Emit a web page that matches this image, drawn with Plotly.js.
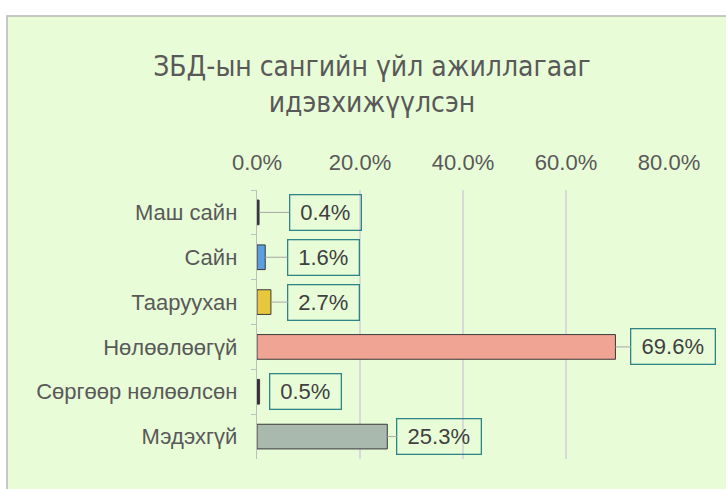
<!DOCTYPE html>
<html><head><meta charset="utf-8">
<script src="https://cdn.plot.ly/plotly-3.0.1.min.js"></script>
<style>html,body{margin:0;padding:0;background:#fff;}#chart{width:726px;height:489px;}</style>
</head><body><div id="chart"></div>
<script>
const categories = ["Маш сайн", "Сайн", "Тааруухан", "Нөлөөлөөгүй", "Сөргөөр нөлөөлсөн", "Мэдэхгүй"];
const shares = [0.004, 0.016, 0.027, 0.696, 0.005, 0.253];
const valueLabels = ["0.4%", "1.6%", "2.7%", "69.6%", "0.5%", "25.3%"];
const tickValues = [0, 0.2, 0.4, 0.6, 0.8];
const tickLabels = ["0.0%", "20.0%", "40.0%", "60.0%", "80.0%"];

const barColors = ["#2f3a34", "#5b9fdc", "#e6c83e", "#f0a493", "#2f2f2f", "#a9b9ad"];
const labelOffsets = [66, 58, 53, 58, 46, 52];
const showLeader = [true, true, true, true, false, true];

const W = 726, H = 489;
const L = 257, R = 57, T = 190, B = 30;
const pw = W - L - R, ph = H - T - B;
const px = v => (v - L) / pw;
const py = v => (H - B - v) / ph;

const trace = {
  type: "bar", orientation: "h",
  y: categories, x: shares,
  width: 0.55,
  marker: {color: barColors, line: {color: "#3a3a3a", width: 1}},
  hoverinfo: "skip"
};

const annotations = categories.map((c, i) => ({
  x: shares[i], y: c, xref: "x", yref: "y",
  text: valueLabels[i],
  showarrow: true, arrowhead: 0, arrowwidth: 1,
  arrowcolor: showLeader[i] ? "#a6a6a6" : "rgba(0,0,0,0)",
  ax: labelOffsets[i], ay: 0,
  font: {family: "Liberation Sans, Arial, sans-serif", size: 22, color: "#404040"},
  bordercolor: "#2f8585", borderwidth: 1.3, borderpad: 3,
  bgcolor: "rgba(0,0,0,0)",
  width: valueLabels[i].length > 4 ? 77 : 64, height: 28
}));

const layout = {
  width: W, height: H,
  margin: {l: L, r: R, t: T, b: B, pad: 0},
  paper_bgcolor: "#ffffff",
  plot_bgcolor: "rgba(0,0,0,0)",
  showlegend: false,
  title: {
    text: "ЗБД-ын сангийн үйл ажиллагааг<br>идэвхижүүлсэн",
    x: 372 / W, xref: "container", xanchor: "center",
    y: 1 - 76 / H, yref: "container", yanchor: "middle",
    font: {family: "Liberation Sans Narrow, DejaVu Sans Condensed, sans-serif", size: 28, color: "#595959"}
  },
  xaxis: {
    side: "top", range: [0, 0.8],
    tickvals: tickValues, ticktext: tickLabels,
    showgrid: true, gridcolor: "#d9d9d9", gridwidth: 1.3,
    zeroline: false, showline: false, ticks: "",
    tickfont: {family: "Liberation Sans, Arial, sans-serif", size: 22, color: "#595959"},
    ticklabelstandoff: 15, fixedrange: true
  },
  yaxis: {
    type: "category", autorange: "reversed",
    showline: true, linecolor: "#bfbfbf", linewidth: 1.3,
    ticks: "outside", tickson: "boundaries", ticklen: 5, tickcolor: "#bfbfbf",
    showgrid: false, zeroline: false,
    tickfont: {family: "Liberation Sans, Arial, sans-serif", size: 22, color: "#595959"},
    ticklabelstandoff: 14, fixedrange: true
  },
  shapes: [{
    type: "rect", xref: "paper", yref: "paper", layer: "below",
    x0: px(7), x1: px(740), y0: py(500), y1: py(16),
    fillcolor: "#e8fcd8", line: {color: "#b8b8b8", width: 1.5}
  }],
  annotations: annotations
};

Plotly.newPlot("chart", [trace], layout, {displayModeBar: false, staticPlot: true});
</script>
</body></html>
